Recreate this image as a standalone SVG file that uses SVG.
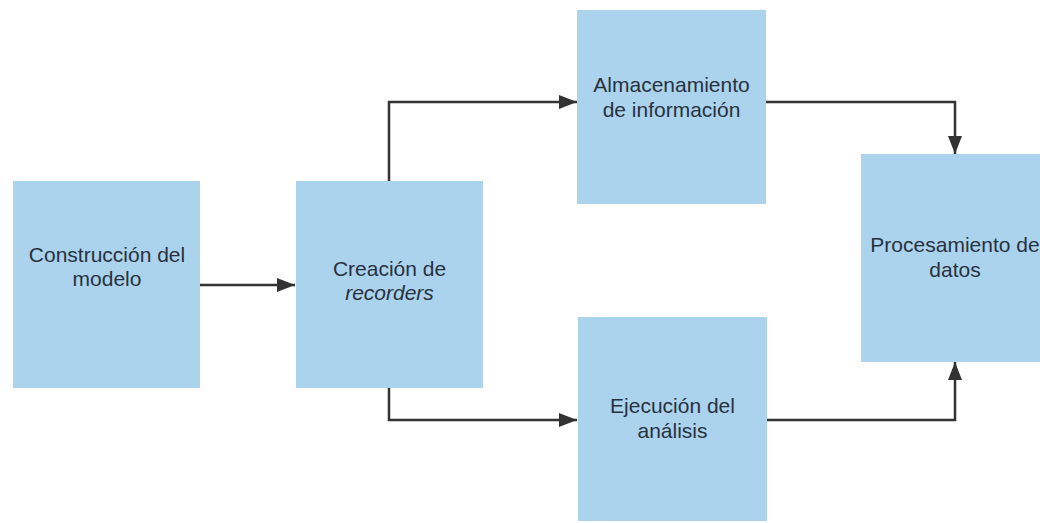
<svg xmlns="http://www.w3.org/2000/svg" width="1040" height="523" viewBox="0 0 1040 523">
<style>
.box{fill:#acd3ee;}
.lbl{font-family:"Liberation Sans",Arial,sans-serif;font-size:21px;fill:#27323f;text-anchor:middle;}
.conn{fill:none;stroke:#333;stroke-width:2.5;}
</style>
<defs>
<marker id="arr" markerUnits="userSpaceOnUse" markerWidth="20" markerHeight="16" refX="18" refY="8" orient="auto">
<path d="M0,1 L18,8 L0,15 Z" fill="#333"/>
</marker>
</defs>
<rect width="1040" height="523" fill="#fff"/>
<g id="n1">
<rect class="box" x="13" y="181" width="187" height="207"/>
<text class="lbl" x="107" y="262">Construcción del</text>
<text class="lbl" x="107" y="286">modelo</text>
</g>
<g id="n2">
<rect class="box" x="296" y="181" width="187" height="207"/>
<text class="lbl" x="389.5" y="276">Creación de</text>
<text class="lbl" x="389.5" y="300" font-style="italic">recorders</text>
</g>
<g id="n3">
<rect class="box" x="577" y="10" width="189" height="194"/>
<text class="lbl" x="671.5" y="92">Almacenamiento</text>
<text class="lbl" x="671.5" y="117">de información</text>
</g>
<g id="n4">
<rect class="box" x="578" y="317" width="189" height="204"/>
<text class="lbl" x="672.5" y="413">Ejecución del</text>
<text class="lbl" x="672.5" y="438">análisis</text>
</g>
<g id="n5">
<rect class="box" x="861" y="154" width="188" height="208"/>
<text class="lbl" x="955" y="252">Procesamiento de</text>
<text class="lbl" x="955" y="277">datos</text>
</g>
<g id="connectors">
<path class="conn" d="M200,285 H295" marker-end="url(#arr)"/>
<path class="conn" d="M389,181 V102 H577" marker-end="url(#arr)"/>
<path class="conn" d="M389,388 V420 H577" marker-end="url(#arr)"/>
<path class="conn" d="M766,102 H955 V154" marker-end="url(#arr)"/>
<path class="conn" d="M767,420 H955 V362" marker-end="url(#arr)"/>
</g>
</svg>
